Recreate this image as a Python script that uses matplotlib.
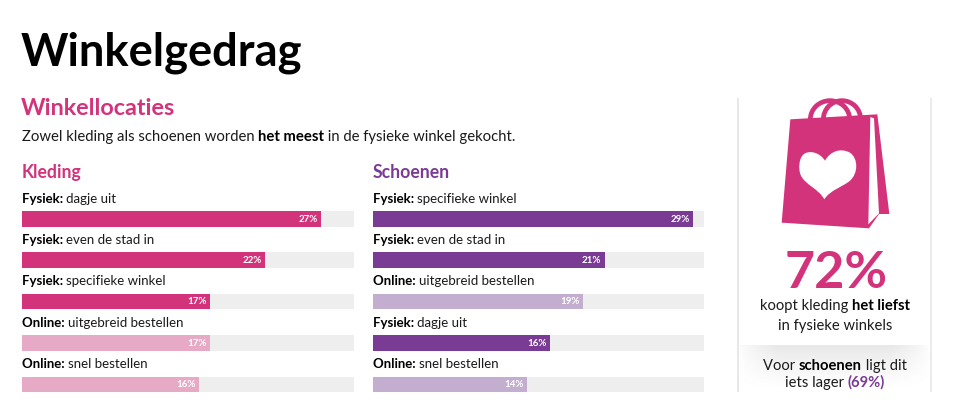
import numpy as np
import matplotlib
matplotlib.use("Agg")
import matplotlib.pyplot as plt
from matplotlib.patches import Polygon, Ellipse, PathPatch
from matplotlib.path import Path

W, H = 966, 419
FONT = "Lato"
PINK = "#d3337a"
PINK_LIGHT = "#e6aac6"
PURPLE = "#7a3b94"
PURPLE_LIGHT = "#c4aed0"
TRACK = "#eeeeee"
INK = "#1a1a1a"

kleding_bold = ["Fysiek:", "Fysiek:", "Fysiek:", "Online:", "Online:"]
kleding_rest = ["dagje uit", "even de stad in", "specifieke winkel", "uitgebreid bestellen", "snel bestellen"]
kleding_vals = [27, 22, 17, 17, 16]

schoenen_bold = ["Fysiek:", "Fysiek:", "Online:", "Fysiek:", "Online:"]
schoenen_rest = ["specifieke winkel", "even de stad in", "uitgebreid bestellen", "dagje uit", "snel bestellen"]
schoenen_vals = [29, 21, 19, 16, 14]

axis_max = 30
bar_tops = [211.5, 252.5, 293.5, 335, 376.5]
bar_h = 15.5

fig = plt.figure(figsize=(W / 100, H / 100), dpi=100, facecolor="white")
bg = fig.add_axes([0, 0, 1, 1])
bg.set_xlim(0, W)
bg.set_ylim(H, 0)
bg.axis("off")


def runs(x, y, parts, size, align="left"):
    # parts = (text, bold?, colour) drawn one after the other on a baseline
    rend = fig.canvas.get_renderer()
    items = []
    total = 0
    for s, bold, col in parts:
        t = bg.text(x, y, s, fontsize=size, family=FONT, color=col,
                    fontweight="bold" if bold else "normal", va="baseline", ha="left")
        w = t.get_window_extent(rend).width
        items.append((t, w))
        total += w
    cur = x - total / 2 if align == "center" else x
    for t, w in items:
        t.set_x(cur)
        cur += w


def bars(left, right, vals, cols):
    ax = fig.add_axes([left / W, 1 - 392 / H, (right - left) / W, (392 - 211.5) / H])
    ax.set_xlim(0, axis_max)
    ax.set_ylim(392 - 211.5, 0)
    ax.axis("off")
    ys = [t - 211.5 + bar_h / 2 for t in bar_tops]
    ax.barh(ys, [axis_max] * len(vals), height=bar_h, color=TRACK, linewidth=0)
    ax.barh(ys, vals, height=bar_h, color=cols, linewidth=0)
    for y, v in zip(ys, vals):
        ax.text(v - 0.3, y + 0.3, f"{v}%", ha="right", va="center", color="white",
                fontsize=7, fontweight="bold", family=FONT)


bg.text(21, 66, "Winkelgedrag", fontsize=32.6, fontweight="bold", family=FONT, color="black", va="baseline")
bg.text(21, 115, "Winkellocaties", fontsize=16.8, fontweight="bold", family=FONT, color=PINK, va="baseline")
runs(22, 141, [("Zowel kleding als schoenen worden ", False, INK), ("het meest", True, "black"),
               (" in de fysieke winkel gekocht.", False, INK)], 10.7)
runs(22, 178, [("Kleding", True, PINK)], 12.7)
runs(373, 178, [("Schoenen", True, PURPLE)], 12.7)

for i, top in enumerate(bar_tops):
    runs(22, top - 8.5, [(kleding_bold[i] + " ", True, "black"), (kleding_rest[i], False, INK)], 9.5)
    runs(373, top - 8.5, [(schoenen_bold[i] + " ", True, "black"), (schoenen_rest[i], False, INK)], 9.5)

bars(22, 354, kleding_vals, [PINK if b == "Fysiek:" else PINK_LIGHT for b in kleding_bold])
bars(373, 704, schoenen_vals, [PURPLE if b == "Fysiek:" else PURPLE_LIGHT for b in schoenen_bold])

# side panel: rules and the soft grey box behind the footnote
yy, xx = np.mgrid[0:1:46j, 0:1:193j]
fade = (1 - yy) ** 1.3 * np.clip(np.minimum(xx, 1 - xx) / 0.2, 0, 1) ** 0.7
grey = 1 - 0.09 * fade
bg.imshow(grey, extent=(738, 931, 392, 346), cmap="gray", vmin=0, vmax=1, aspect="auto", zorder=0)
bg.set_xlim(0, W)
bg.set_ylim(H, 0)
bg.plot([738, 738], [98, 392], color="#e8e8e8", lw=1.5, solid_capstyle="butt")
bg.plot([931, 931], [98, 392], color="#e8e8e8", lw=1.2, solid_capstyle="butt")


# bag icon, traced in zoomed crop coords (3x, origin 730,90)
def bx(p):
    return [(730 + a / 3, 90 + b / 3) for a, b in p]


for cx, w in [(300, 118), (336, 112)]:
    c = bx([(cx, 88)])[0]
    bg.add_patch(Ellipse(c, w / 3, 112 / 3, fill=False, ec=PINK, lw=3.4, zorder=2))
bg.add_patch(Polygon(bx([(181, 88), (442, 73), (478, 372), (447, 372), (417, 415), (155, 398)]),
                     fc=PINK, ec="none", zorder=3))
bg.add_patch(Polygon(bx([(421, 81), (432, 85), (447, 370), (415, 403)]), fc="white", ec="none", zorder=4))
heart = bx([(285, 212), (268, 186), (240, 182), (225, 190), (205, 200), (205, 240), (212, 255), (225, 285),
            (265, 295), (283, 328), (300, 300), (340, 290), (360, 272), (385, 250), (385, 205), (360, 188),
            (330, 172), (300, 185), (285, 212)])
codes = [Path.MOVETO] + [Path.CURVE4] * 18
bg.add_patch(PathPatch(Path(heart, codes), fc="white", ec="none", zorder=5))

bg.text(836, 288, "72%", fontsize=37.5, fontweight="bold", family=FONT, color=PINK, ha="center", va="baseline")
runs(835, 310, [("koopt kleding ", False, INK), ("het liefst", True, "black")], 10.6, "center")
bg.text(835, 330, "in fysieke winkels", fontsize=10.6, family=FONT, color=INK, ha="center", va="baseline")
runs(835, 370, [("Voor ", False, INK), ("schoenen", True, "black"), (" ligt dit", False, INK)], 10.6, "center")
runs(835, 387, [("iets lager ", False, INK), ("(69%)", True, PURPLE)], 10.6, "center")

fig.savefig("out.png", dpi=100)
